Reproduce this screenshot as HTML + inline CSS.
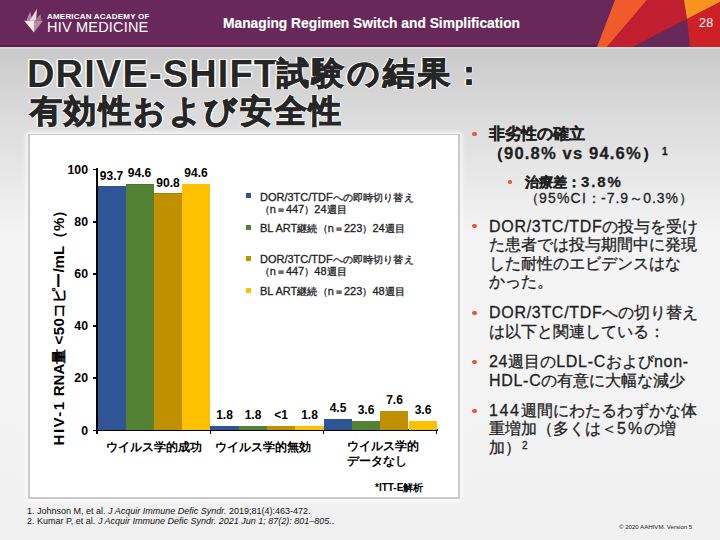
<!DOCTYPE html>
<html lang="ja">
<head>
<meta charset="utf-8">
<style>
html,body{margin:0;padding:0;}
body{width:720px;height:540px;overflow:hidden;position:relative;font-family:"Liberation Sans",sans-serif;
 background:linear-gradient(to bottom,#c9c9c9 47px,#dcdcdc 120px,#f3f3f3 230px,#f4f4f4 330px,#f0f0f0 540px);}
.a{position:absolute;white-space:nowrap;line-height:1;}
#hdr{position:absolute;left:0;top:0;width:720px;height:47px;background:linear-gradient(to bottom,#68285a 44.7px,#63174e 45px);box-sizing:border-box;overflow:hidden;}
#hdrline{position:absolute;left:0;top:47px;width:720px;height:2px;background:#d4d8d4;}
.title{font-weight:bold;color:#262626;font-size:34px;
 text-shadow:1.3px 0 0 #fff,-1.3px 0 0 #fff,0 1.3px 0 #fff,0 -1.3px 0 #fff,1px 1px 0 #fff,-1px 1px 0 #fff,1px -1px 0 #fff,-1px -1px 0 #fff,0 0 2px #fff;}
.tj{-webkit-text-stroke:1.1px #262626;}
#box{position:absolute;left:28px;top:134px;width:428px;height:361.5px;background:#fff;border:2px solid #c9c9c9;border-top-width:1px;
 box-shadow:0 0 4px 2px rgba(255,255,255,.8);}
.bar{position:absolute;}
.lbl{position:absolute;font-weight:bold;font-size:12px;color:#000;text-align:center;width:40px;line-height:12px;white-space:nowrap;}
.yl{position:absolute;font-weight:bold;font-size:12.3px;color:#000;text-align:right;width:30px;line-height:12px;}
.cat{position:absolute;font-weight:bold;font-size:12px;color:#000;line-height:14.5px;white-space:nowrap;}
.ll{font-size:11px;letter-spacing:0px;}
.leg{position:absolute;font-size:10px;letter-spacing:0.12px;color:#1e1e1e;-webkit-text-stroke:0.3px #1e1e1e;line-height:12px;white-space:nowrap;}
.sw{position:absolute;width:5px;height:5px;}
.bt{position:absolute;color:#1f1f1f;font-size:16px;line-height:18px;white-space:nowrap;-webkit-text-stroke:0.3px #1f1f1f;}
.b{font-weight:bold;}
.m{letter-spacing:0.7px;}
.dot{position:absolute;width:4.4px;height:4.4px;border-radius:50%;background:#e9572b;}
.dot.s{width:3.6px;height:3.6px;}
</style>
</head>
<body>
<div id="hdr">
 <svg width="720" height="47" style="position:absolute;left:0;top:0">
  <polygon points="615,0 647,0 607,47 597,47" fill="#f15a2b"/>
  <polygon points="647,0 684,0 687,19 633,47 607,47" fill="#bf1f2f"/>
  <polygon points="684,0 720,0 720,2 687,19" fill="#f7931e"/>
  <polygon points="687,19 690,47 633,47" fill="#68285a"/>
  <polygon points="720,2 720,47 690,47 687,19" fill="#cd2027"/>
 </svg>
 <div class="a" style="left:223px;top:15.8px;color:#fff;font-weight:bold;font-size:14.5px;transform-origin:0 0;transform:scaleX(0.95);-webkit-text-stroke:0.2px #fff;text-shadow:0 0 1px #4a1040">Managing Regimen Switch and Simplification</div>
 <div class="a" style="left:699px;top:17px;color:#fff;font-size:12.5px;letter-spacing:0.3px">28</div>
 <svg width="30" height="30" style="position:absolute;left:20px;top:6px" viewBox="20 6 30 30">
  <polygon points="24.2,20.7 34,20.7 34,32.5" fill="#f3e7ef"/>
  <polygon points="34,20.7 42.9,20.7 34,32.5" fill="#b68ca7"/>
  <polygon points="26.3,20.7 30.1,11.5 32.5,20.7" fill="#b08aa3"/>
  <polygon points="29.5,20.7 37,8.8 36,20.7" fill="#ead9e4"/>
  <polygon points="34.5,20.7 40.5,13.9 41.5,20.7" fill="#9f7590"/>
 </svg>
 <div class="a" style="left:47px;top:12.5px;color:#fff;font-size:8px;letter-spacing:0.2px;font-weight:bold">AMERICAN ACADEMY OF</div>
 <div class="a" style="left:47px;top:19.5px;color:#fff;font-size:14.5px;letter-spacing:0.2px">HIV MEDICINE</div>
</div>
<div id="hdrline"></div>

<div class="a title" style="left:27px;top:55px;font-size:38px;letter-spacing:1.15px">DRIVE-SHIFT</div>
<div class="a title tj" style="left:276.5px;top:58px;font-size:31.5px;letter-spacing:3px">試験の結果：</div>
<div class="a title tj" style="left:29.5px;top:95.5px;font-size:31.5px;letter-spacing:2.6px">有効性および安全性</div>

<div id="box"></div>
<!-- chart -->
<div style="position:absolute;left:96px;top:168px;width:2px;height:264px;background:#000"></div>
<div style="position:absolute;left:96px;top:429.4px;width:341.5px;height:1.8px;background:#000"></div>
<!-- y ticks -->
<div style="position:absolute;left:93px;top:168.5px;width:4px;height:1.5px;background:#000"></div>
<div style="position:absolute;left:93px;top:221px;width:4px;height:1.5px;background:#000"></div>
<div style="position:absolute;left:93px;top:273px;width:4px;height:1.5px;background:#000"></div>
<div style="position:absolute;left:93px;top:325px;width:4px;height:1.5px;background:#000"></div>
<div style="position:absolute;left:93px;top:377px;width:4px;height:1.5px;background:#000"></div>
<div style="position:absolute;left:93px;top:429.5px;width:4px;height:1.5px;background:#000"></div>
<!-- x ticks -->
<div style="position:absolute;left:96px;top:430px;width:1.5px;height:4px;background:#000"></div>
<div style="position:absolute;left:209.5px;top:430px;width:1.5px;height:4px;background:#000"></div>
<div style="position:absolute;left:322.5px;top:430px;width:1.5px;height:4px;background:#000"></div>
<div style="position:absolute;left:435.5px;top:430px;width:1.5px;height:4px;background:#000"></div>
<!-- y labels -->
<div class="yl" style="left:58px;top:163.5px">100</div>
<div class="yl" style="left:58px;top:216px">80</div>
<div class="yl" style="left:58px;top:268px">60</div>
<div class="yl" style="left:58px;top:320px">40</div>
<div class="yl" style="left:58px;top:372px">20</div>
<div class="yl" style="left:58px;top:424.5px">0</div>
<!-- bars -->
<div id="bars"></div>
<div class="bar" style="left:98px;top:186.1px;width:27.7px;height:243.7px;background:#2f5597"></div>
<div class="bar" style="left:125.7px;top:183.6px;width:28.2px;height:246.2px;background:#548235;box-shadow:inset 0 1px 0 #47752c"></div>
<div class="bar" style="left:153.9px;top:193.4px;width:28.3px;height:236.4px;background:#bf9000;box-shadow:inset 0 1px 0 #a98000"></div>
<div class="bar" style="left:182.2px;top:183.6px;width:28.2px;height:246.2px;background:#ffc000"></div>

<div class="bar" style="left:210.4px;top:425.6px;width:28.3px;height:4.2px;background:#2f5597"></div>
<div class="bar" style="left:238.7px;top:425.6px;width:28.3px;height:4.2px;background:#548235"></div>
<div class="bar" style="left:267.0px;top:426.4px;width:28.3px;height:3.4px;background:#bf9000"></div>
<div class="bar" style="left:295.3px;top:425.6px;width:28.3px;height:4.2px;background:#ffc000"></div>

<div class="bar" style="left:323.6px;top:419.0px;width:28.3px;height:10.8px;background:#2f5597"></div>
<div class="bar" style="left:351.9px;top:421.0px;width:28.3px;height:8.8px;background:#548235"></div>
<div class="bar" style="left:380.2px;top:410.6px;width:28.3px;height:19.2px;background:#bf9000"></div>
<div class="bar" style="left:408.5px;top:421.0px;width:28.3px;height:8.8px;background:#ffc000"></div>
<!-- data labels -->
<div class="lbl" style="left:91.5px;top:169.5px">93.7</div>
<div class="lbl" style="left:119.5px;top:167px">94.6</div>
<div class="lbl" style="left:148px;top:176.5px">90.8</div>
<div class="lbl" style="left:176px;top:167px">94.6</div>

<div class="lbl" style="left:204.5px;top:409px">1.8</div>
<div class="lbl" style="left:233px;top:409px">1.8</div>
<div class="lbl" style="left:261px;top:409px">&lt;1</div>
<div class="lbl" style="left:289.5px;top:409px">1.8</div>

<div class="lbl" style="left:318px;top:402px">4.5</div>
<div class="lbl" style="left:346px;top:404px">3.6</div>
<div class="lbl" style="left:374.5px;top:394px">7.6</div>
<div class="lbl" style="left:403px;top:404px">3.6</div>
<!-- categories -->
<div class="cat" style="left:106px;top:440px">ウイルス学的成功</div>
<div class="cat" style="left:215px;top:440px">ウイルス学的無効</div>
<div class="cat" style="left:346.5px;top:439px">ウイルス学的<br>データなし</div>
<div class="a" style="left:375px;top:483px;font-weight:bold;font-size:10px;color:#000">*ITT-E解析</div>
<!-- y title -->
<div class="a" style="left:57.5px;top:324px;transform:translate(-50%,-50%) rotate(-90deg);font-weight:bold;font-size:15px;color:#000"><span style="letter-spacing:1.5px">HIV-1</span> <span style="letter-spacing:0px">RNA</span>量 <span style="letter-spacing:0.5px">&lt;50</span>コピー/mL（%）</div>
<!-- legend -->
<div class="sw" style="left:246.3px;top:192.5px;background:#2f5597"></div>
<div class="leg" style="left:260px;top:190.5px"><span class="ll">DOR/3TC/TDF</span>への即時切り替え</div>
<div class="leg" style="left:259.5px;top:202.5px">（<span class="ll">n</span>＝<span class="ll">447</span>）<span class="ll">24</span>週目</div>
<div class="sw" style="left:246.3px;top:224.7px;background:#548235"></div>
<div class="leg" style="left:260px;top:221.5px"><span class="ll">BL ART</span>継続（<span class="ll">n</span>＝<span class="ll">223</span>）<span class="ll">24</span>週目</div>
<div class="sw" style="left:246.3px;top:256px;background:#bf9000"></div>
<div class="leg" style="left:260px;top:253px"><span class="ll">DOR/3TC/TDF</span>への即時切り替え</div>
<div class="leg" style="left:259.5px;top:265px">（<span class="ll">n</span>＝<span class="ll">447</span>）<span class="ll">48</span>週目</div>
<div class="sw" style="left:246.3px;top:287.5px;background:#ffc000"></div>
<div class="leg" style="left:260px;top:284.5px"><span class="ll">BL ART</span>継続（<span class="ll">n</span>＝<span class="ll">223</span>）<span class="ll">48</span>週目</div>

<!-- bullets -->
<div class="dot" style="left:472.3px;top:131.6px"></div>
<div class="bt b" style="left:489px;top:125px">非劣性の確立</div>
<div class="bt b" style="left:488px;top:142.8px">（<span style="letter-spacing:1.15px;font-size:16.6px">90.8% vs 94.6%</span>）<sup style="font-size:10px;vertical-align:4px;margin-left:4px;font-weight:bold">1</sup></div>
<div class="dot s" style="left:508.3px;top:180.1px"></div>
<div class="bt b" style="left:525px;top:172.5px;font-size:14px">治療差：<span style="letter-spacing:1.9px;font-size:15px">3.8%</span></div>
<div class="bt" style="left:525px;top:188.5px;font-size:14px">（<span style="letter-spacing:1.2px">95%CI</span>：<span style="letter-spacing:1px">-7.9</span>～<span style="letter-spacing:1px">0.3%</span>）</div>

<div class="dot" style="left:472.3px;top:224px"></div>
<div class="bt" style="left:489px;top:217.5px"><span class="m">DOR/3TC/TDF</span>の投与を受け</div>
<div class="bt" style="left:489px;top:236px">た患者では投与期間中に発現</div>
<div class="bt" style="left:489px;top:254.5px">した耐性のエビデンスはな</div>
<div class="bt" style="left:489px;top:273px">かった。</div>

<div class="dot" style="left:472.3px;top:311px"></div>
<div class="bt" style="left:489px;top:304px"><span class="m">DOR/3TC/TDF</span>への切り替え</div>
<div class="bt" style="left:489px;top:322.8px">は以下と関連している：</div>

<div class="dot" style="left:472.3px;top:359.5px"></div>
<div class="bt" style="left:489px;top:353px"><span class="m">24</span>週目の<span class="m">LDL-C</span>および<span class="m">non-</span></div>
<div class="bt" style="left:489px;top:371.5px"><span class="m">HDL-C</span>の有意に大幅な減少</div>

<div class="dot" style="left:472.3px;top:408.5px"></div>
<div class="bt" style="left:489px;top:401.5px"><span class="m" style="letter-spacing:1.6px">144</span>週間にわたるわずかな体</div>
<div class="bt" style="left:489px;top:420px">重増加（多くは＜<span class="m" style="letter-spacing:2px">5%</span>の増</div>
<div class="bt" style="left:489px;top:439px">加）<span style="font-size:10px;position:relative;top:-4.3px;margin-left:1px">2</span></div>

<!-- footnotes -->
<div class="a" style="left:27px;top:507.2px;font-size:9px;color:#111">1. Johnson M, et al. <i>J Acquir Immune Defic Syndr.</i> 2019;81(4):463-472.</div>
<div class="a" style="left:27px;top:516.7px;font-size:9px;color:#111">2. Kumar P, et al. <i>J Acquir Immune Defic Syndr. 2021 Jun 1; 87(2): 801–805.</i>.</div>
<div class="a" style="left:619px;top:523.5px;font-size:6.1px;color:#222">© 2020 AAHIVM. Version 5</div>
</body>
</html>
